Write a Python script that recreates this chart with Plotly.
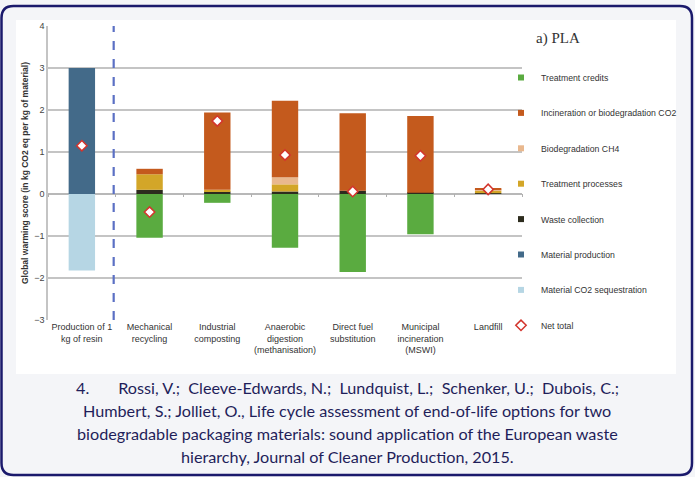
import plotly.graph_objects as go

categories = ["Production of 1<br>kg of resin", "Mechanical<br>recycling", "Industrial<br>composting",
              "Anaerobic<br>digestion<br>(methanisation)", "Direct fuel<br>substitution",
              "Municipal<br>incineration<br>(MSWI)", "Landfill"]

waste_collection = [0, 0.10, 0.06, 0.06, 0.08, 0.03, 0.02]
treatment_processes = [0, 0.37, 0.04, 0.17, 0, 0, 0.06]
biodegradation_ch4 = [0, 0, 0, 0.17, 0, 0, 0.02]
incineration_co2 = [0, 0.13, 1.84, 1.82, 1.84, 1.83, 0.02]
material_production = [3.0, 0, 0, 0, 0, 0, 0]
treatment_credits = [0, -1.04, -0.21, -1.28, -1.86, -0.96, 0]
co2_sequestration = [-1.82, 0, 0, 0, 0, 0, 0]
net_total = [1.15, -0.43, 1.74, 0.93, 0.06, 0.91, 0.11]

y_ticks = [-3, -2, -1, 0, 1, 2, 3, 4]

caption_lines = [
    "4.&nbsp;&nbsp;&nbsp;&nbsp;&nbsp;&nbsp;&nbsp;Rossi, V.;&nbsp; Cleeve-Edwards, N.;&nbsp; Lundquist, L.;&nbsp; "
    "Schenker, U.;&nbsp; Dubois, C.;",
    "Humbert, S.; Jolliet, O., Life cycle assessment of end-of-life options for two",
    "biodegradable packaging materials: sound application of the European waste",
    "hierarchy, Journal of Cleaner Production, 2015.",
]

W, H = 695, 477
L, R, T, B = 48, 522, 26, 320


def px(x):
    return (x - L) / (R - L)


def py(y):
    return (B - y) / (B - T)


fig = go.Figure()

stack = [
    ("Waste collection", waste_collection, "#2d2c1e", 5),
    ("Treatment processes", treatment_processes, "#d3a628", 4),
    ("Biodegradation CH4", biodegradation_ch4, "#e9b88e", 3),
    ("Incineration or biodegradation CO2", incineration_co2, "#c45a1d", 2),
    ("Material production", material_production, "#436a89", 6),
    ("Treatment credits", treatment_credits, "#5aab40", 1),
    ("Material CO2 sequestration", co2_sequestration, "#b6d6e4", 7),
]
for name, vals, color, rank in stack:
    fig.add_trace(go.Bar(x=categories, y=vals, name=name, marker=dict(color=color, line=dict(width=0)),
                         width=0.39, showlegend=False, legendgroup=name))
    # small square legend entry
    fig.add_trace(go.Scatter(x=[None], y=[None], mode="markers", name=name, legendrank=rank,
                             legendgroup=name, marker=dict(symbol="square", size=6, color=color)))

fig.add_trace(go.Scatter(x=categories, y=net_total, mode="markers", name="Net total",
                         marker=dict(symbol="diamond", size=8, color="white",
                                     line=dict(color="#d3342c", width=1.5)),
                         legendrank=8, legendgroup="net"))

# helper trace for boundary tick marks on the zero line
fig.add_trace(go.Scatter(x=categories, y=[None] * len(categories), xaxis="x2", showlegend=False,
                         hoverinfo="skip"))

font_narrow = "Liberation Sans Narrow, Arial Narrow, Liberation Sans, Arial"

fig.update_layout(
    width=W, height=H,
    margin=dict(l=L, r=W - R, t=T, b=H - B, autoexpand=False),
    paper_bgcolor="#f4f5f8",
    plot_bgcolor="white",
    barmode="relative",
    bargap=0.6,
    showlegend=True,
    legend=dict(x=px(501), y=py(63), xanchor="left", yanchor="top",
                font=dict(family=font_narrow, size=8.7, color="#333333"),
                bgcolor="rgba(0,0,0,0)", tracegroupgap=16.4, itemwidth=30, itemsizing="trace",
                traceorder="grouped"),
    xaxis=dict(showgrid=False, showline=False, zeroline=False, ticks="",
               tickfont=dict(family=font_narrow, size=9, color="#333333"),
               range=[-0.5, 6.5]),
    xaxis2=dict(overlaying="x", anchor="free", position=py(193.3), side="bottom",
                matches="x", showgrid=False, showline=False, zeroline=False, ticks="outside",
                tickson="boundaries", ticklen=3, tickcolor="#b0b0b0", showticklabels=False),
    yaxis=dict(range=[-3, 4], tickvals=y_ticks, showgrid=True, gridcolor="#c4c4c4", gridwidth=1.5,
               zeroline=True, zerolinecolor="#b8b8b8", zerolinewidth=1.5,
               showline=True, linecolor="#c4c4c4", linewidth=1.5,
               tickfont=dict(family="Liberation Sans, Arial", size=9, color="#444444"),
               title=dict(text="<b>Global warming score (in kg CO2 eq per kg of material)</b>",
                          font=dict(family="Liberation Sans, Arial", size=8.5, color="#333333"),
                          standoff=4)),
)

# white chart panel and outer rounded border
fig.add_shape(type="rect", xref="paper", yref="paper", x0=px(16), x1=px(676), y0=py(374), y1=py(20),
              fillcolor="white", line=dict(width=0), layer="below")

x0, x1, y0, y1, r = 1.5, 692, 6, 475, 12
path = (f"M {px(x0 + r)},{py(y0)} L {px(x1 - r)},{py(y0)} Q {px(x1)},{py(y0)} {px(x1)},{py(y0 + r)} "
        f"L {px(x1)},{py(y1 - r)} Q {px(x1)},{py(y1)} {px(x1 - r)},{py(y1)} "
        f"L {px(x0 + r)},{py(y1)} Q {px(x0)},{py(y1)} {px(x0)},{py(y1 - r)} "
        f"L {px(x0)},{py(y0 + r)} Q {px(x0)},{py(y0)} {px(x0 + r)},{py(y0)} Z")
fig.add_shape(type="path", xref="paper", yref="paper", path=path, line=dict(color="#1b1a6c", width=2.5))

# dashed separator
fig.add_shape(type="line", xref="x", yref="y", x0=0.47, x1=0.47, y0=-3, y1=4,
              line=dict(color="#5b70c4", width=2.2, dash="dash"))

fig.add_annotation(text="a) PLA", xref="paper", yref="paper", x=px(534), y=py(38), xanchor="left",
                   yanchor="middle", showarrow=False,
                   font=dict(family="Liberation Serif, Times New Roman", size=15, color="#333333"))

for i, line in enumerate(caption_lines):
    fig.add_annotation(text=line, xref="paper", yref="paper", x=px(347), y=py(387 + 23.3 * i),
                       xanchor="center", yanchor="middle", showarrow=False,
                       font=dict(family="Lato", size=16.2, color="#1f1e5a"))

fig.write_html("out.html", config={"displayModeBar": False},
               post_script="document.body.style.margin='0';document.body.style.overflow='hidden';")
